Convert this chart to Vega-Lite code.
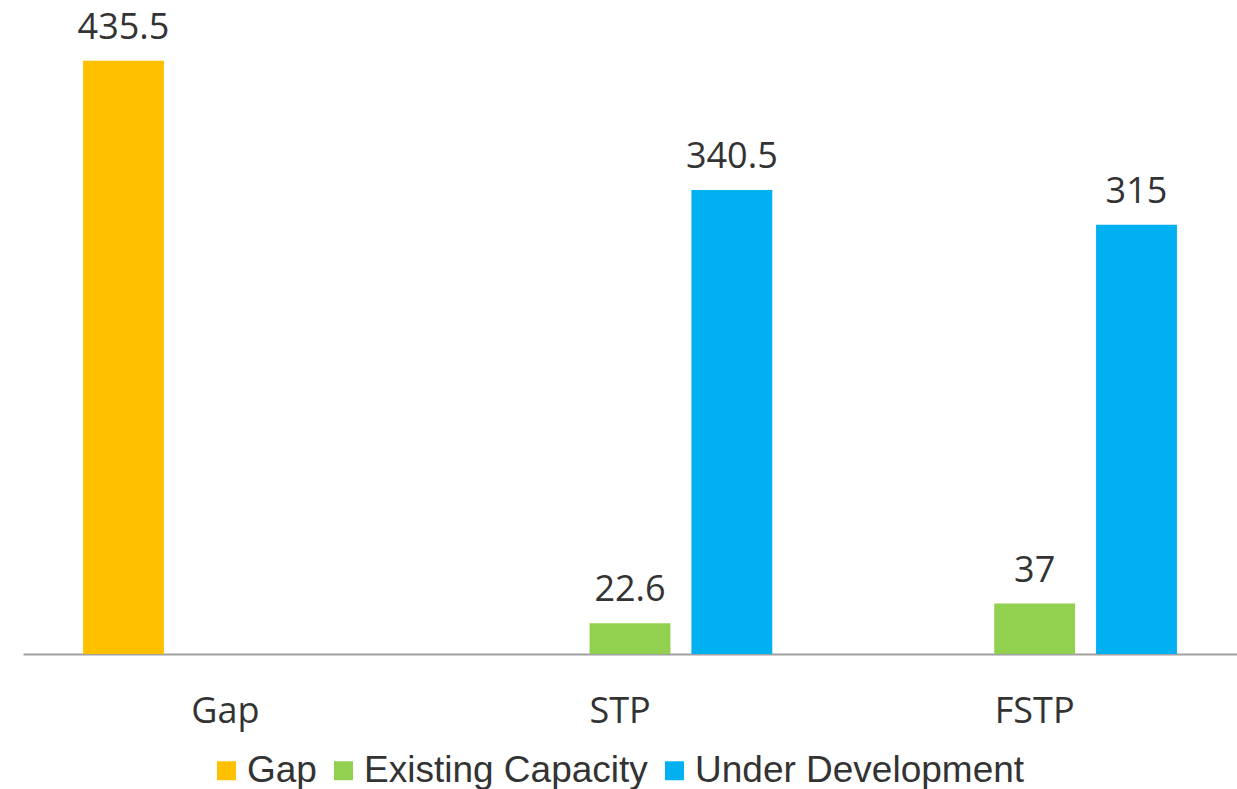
{
  "$schema": "https://vega.github.io/schema/vega-lite/v6.json",
  "width": 1214,
  "height": 654,
  "autosize": {"type": "none"},
  "padding": {"left": 23, "top": 0, "right": 0, "bottom": 135},
  "config": {"view": {"stroke": null}, "font": "Open Sans"},
  "data": {
    "values": [
      {"category": "Gap", "series": "Gap", "value": 435.5},
      {"category": "STP", "series": "Existing Capacity", "value": 22.6},
      {"category": "STP", "series": "Under Development", "value": 340.5},
      {"category": "FSTP", "series": "Existing Capacity", "value": 37},
      {"category": "FSTP", "series": "Under Development", "value": 315}
    ]
  },
  "encoding": {
    "x": {
      "field": "category",
      "type": "nominal",
      "sort": ["Gap", "STP", "FSTP"],
      "scale": {"paddingInner": 0, "paddingOuter": 0},
      "axis": {
        "title": null,
        "labelAngle": 0,
        "ticks": false,
        "tickSize": 0,
        "labelPadding": 40,
        "labelFontSize": 36,
        "labelFont": "Open Sans",
        "labelColor": "#333333",
        "labelOffset": {"condition": {"test": "datum.value === 'STP'", "value": -10}, "value": 0},
        "domainColor": "#A0A0A0",
        "domainWidth": 2,
        "grid": false
      }
    },
    "xOffset": {
      "field": "series",
      "type": "nominal",
      "scale": {
        "domain": ["Gap", "Existing Capacity", "Under Development"],
        "paddingInner": 0.206,
        "paddingOuter": 0.59
      }
    },
    "y": {
      "field": "value",
      "type": "quantitative",
      "scale": {"domain": [0, 480]},
      "axis": null
    }
  },
  "layer": [
    {
      "mark": {"type": "bar"},
      "encoding": {
        "color": {
          "field": "series",
          "type": "nominal",
          "scale": {
            "domain": ["Gap", "Existing Capacity", "Under Development"],
            "range": ["#FFC000", "#92D050", "#00B0F0"]
          },
          "legend": {
            "title": null,
            "orient": "none",
            "legendX": 185,
            "legendY": 752,
            "direction": "horizontal",
            "symbolType": "square",
            "symbolSize": 361,
            "symbolStrokeWidth": 0,
            "labelFont": "Liberation Sans",
            "labelFontSize": 37,
            "labelColor": "#333333",
            "labelLimit": 600,
            "columnPadding": 8,
            "labelOffset": 2,
            "padding": 0
          }
        }
      }
    },
    {
      "mark": {
        "type": "text",
        "dy": -22,
        "baseline": "alphabetic",
        "align": "center",
        "fontSize": 36,
        "font": "Open Sans",
        "color": "#333333"
      },
      "encoding": {
        "text": {"field": "value", "type": "nominal"}
      }
    }
  ]
}
